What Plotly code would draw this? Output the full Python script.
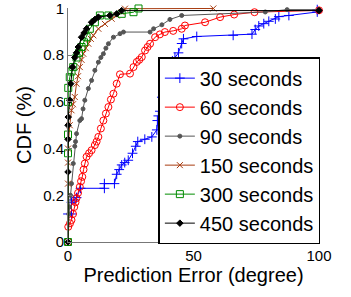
import plotly.graph_objects as go

# ---- data (prediction error in degrees, CDF) ----
names = ["30 seconds", "60 seconds", "90 seconds", "150 seconds", "300 seconds", "450 seconds"]

x30 = [0, 1.4, 1.4, 2.4, 3.4, 5.0, 14.5, 14.5, 18.5, 19.4, 20.4, 21.4, 22.6, 24.0, 25.7, 27.0, 27.8,
       30.6, 33.4, 35.4, 35.6, 36.0, 36.6, 37.4, 38.8, 40.6, 41.6, 42.6, 44.0, 45.3, 46.0, 51.3,
       65.8, 73.3, 74.6, 76.0, 78.0, 80.0, 82.6, 84.0, 88.0, 99.3, 99.3]
y30 = [0.12, 0.12, 0.17, 0.18, 0.19, 0.23, 0.23, 0.25, 0.25, 0.29, 0.31, 0.33, 0.34, 0.35, 0.38, 0.41, 0.43,
       0.44, 0.45, 0.48, 0.52, 0.54, 0.56, 0.62, 0.69, 0.76, 0.775, 0.79, 0.81, 0.85, 0.87, 0.88,
       0.885, 0.89, 0.91, 0.925, 0.935, 0.945, 0.955, 0.965, 0.97, 0.985, 0.995]

x60 = [0.1, 0.8, 1.4, 2.0, 2.5, 3.0, 3.4, 4.0, 4.7, 5.2, 5.7, 6.2, 6.7, 7.4, 8.4, 9.4, 10.7, 11.4, 12.1,
       13.1, 14.1, 15.1, 16.1, 17.1, 18.1, 19.4, 20.7, 24.7, 26.1, 27.4, 28.4, 29.4, 30.7, 31.7,
       32.7, 34.7, 36.6, 38.6, 41.9, 45.3, 46.6, 54.6, 60.6, 66.2, 74.3, 100]
y60 = [0.065, 0.08, 0.094, 0.12, 0.15, 0.17, 0.188, 0.21, 0.236, 0.26, 0.279, 0.31, 0.336, 0.365, 0.38,
       0.393, 0.415, 0.43, 0.45, 0.486, 0.52, 0.55, 0.578, 0.61, 0.635, 0.678, 0.718, 0.721, 0.749,
       0.771, 0.78, 0.792, 0.82, 0.835, 0.849, 0.877, 0.889, 0.899, 0.904, 0.913, 0.927, 0.941,
       0.963, 0.974, 0.984, 0.992]

x90 = [0, 0.3, 0.6, 1.0, 1.4, 2.1, 2.7, 3.0, 3.4, 4.7, 5.4, 6.0, 6.7, 8.1, 9.4, 10.7, 12.1, 13.1,
       14.1, 15.1, 16.1, 18.1, 20.7, 22.1, 32.7, 34.1, 37.4, 40.6, 45.3, 78.6, 87.3, 100]
y90 = [0, 0.12, 0.15, 0.2, 0.25, 0.336, 0.41, 0.43, 0.464, 0.52, 0.528, 0.57, 0.607, 0.657, 0.692,
       0.735, 0.77, 0.79, 0.806, 0.83, 0.849, 0.877, 0.892, 0.899, 0.899, 0.913, 0.93, 0.953, 0.97,
       0.985, 0.995, 0.995]

x150 = [0, 0, 0, 0, 0.7, 1.4, 2.0, 2.7, 3.4, 4.0, 4.7, 5.4, 6.1, 7.1, 8.1, 9.1, 10.1, 12.1, 14.7, 17.4,
        19.4, 21.4, 22.7, 57.9]
y150 = [0, 0.25, 0.34, 0.40, 0.50, 0.564, 0.59, 0.621, 0.678, 0.71, 0.749, 0.78, 0.806, 0.83, 0.849,
        0.87, 0.885, 0.913, 0.934, 0.956, 0.97, 0.984, 0.999, 1.0]

x300 = [0, 0, 0, 0, 0.1, 0.7, 1.4, 2.1, 3.4, 4.4, 5.4, 6.4, 7.4, 8.7, 10.7, 12.7, 16.1, 21.4, 26.1,
        28.1]
y300 = [0, 0.38, 0.46, 0.6, 0.66, 0.706, 0.73, 0.749, 0.79, 0.81, 0.835, 0.855, 0.877, 0.913, 0.941,
        0.97, 0.97, 0.977, 0.984, 1.0]

x450 = [0, 0, 0, 0, 0.1, 0.7, 1.1, 1.8, 2.7, 3.4, 4.1, 5.4, 6.4, 7.4, 9.4, 10.7, 12.1, 16.7, 19.4,
        21.4, 100]
y450 = [0, 0.3, 0.44, 0.5, 0.535, 0.607, 0.678, 0.749, 0.79, 0.81, 0.835, 0.877, 0.895, 0.913, 0.941,
        0.953, 0.963, 0.97, 0.977, 0.991, 0.991]

xs = [x30, x60, x90, x150, x300, x450]
ys = [y30, y60, y90, y150, y300, y450]

colors = ["#0000FF", "#FF0000", "#555555", "#A83C10", "#008C00", "#000000"]
symbols = ["cross-thin", "circle-open", "circle", "x-thin", "square-open", "diamond"]
msizes = [7, 7, 4, 6, 7, 5]

x_ticks = [0, 50, 100]
y_ticks = [0, 0.2, 0.4, 0.6, 0.8, 1]
y_ticklabels = ["0", "0.2", "0.4", "0.6", "0.8", "1"]

FONT = "Liberation Sans, Arial, Helvetica, sans-serif"

fig = go.Figure()
for name, x, y, c, s, ms in zip(names, xs, ys, colors, symbols, msizes):
    fig.add_trace(go.Scatter(
        x=x, y=y, name=name, mode="lines+markers",
        line=dict(color=c, width=1),
        marker=dict(symbol=s, size=ms, color=c, line=dict(color=c, width=1)),
        cliponaxis=False,
    ))

axis_common = dict(
    showgrid=False, zeroline=False, showline=True, linecolor="#777777", linewidth=1,
    ticks="inside", ticklen=4, tickcolor="#777777", tickwidth=1,
    tickfont=dict(family=FONT, size=15, color="black"),
    mirror=False, automargin=False, ticklabeloverflow="allow",
)

fig.update_layout(
    width=351, height=297,
    margin=dict(l=68, r=32, t=8, b=55, autoexpand=False),
    paper_bgcolor="white", plot_bgcolor="white",
    font=dict(family=FONT, color="black"),
    xaxis=dict(range=[0, 100], tickvals=x_ticks,
               title=dict(text="Prediction Error (degree)", font=dict(size=20, family=FONT), standoff=0),
               **axis_common),
    yaxis=dict(range=[0, 1.002], tickvals=y_ticks, ticktext=y_ticklabels,
               title=dict(text="CDF (%)", font=dict(size=20, family=FONT), standoff=6),
               **axis_common),
    legend=dict(x=0.36, y=0.79, xanchor="left", yanchor="top",
                bgcolor="white", bordercolor="black", borderwidth=1.5,
                font=dict(family=FONT, size=20, color="black"),
                itemwidth=30, tracegroupgap=0),
    showlegend=True,
)

fig.write_html("out.html", post_script="document.body.style.margin='0';",
               config={"displayModeBar": False})
